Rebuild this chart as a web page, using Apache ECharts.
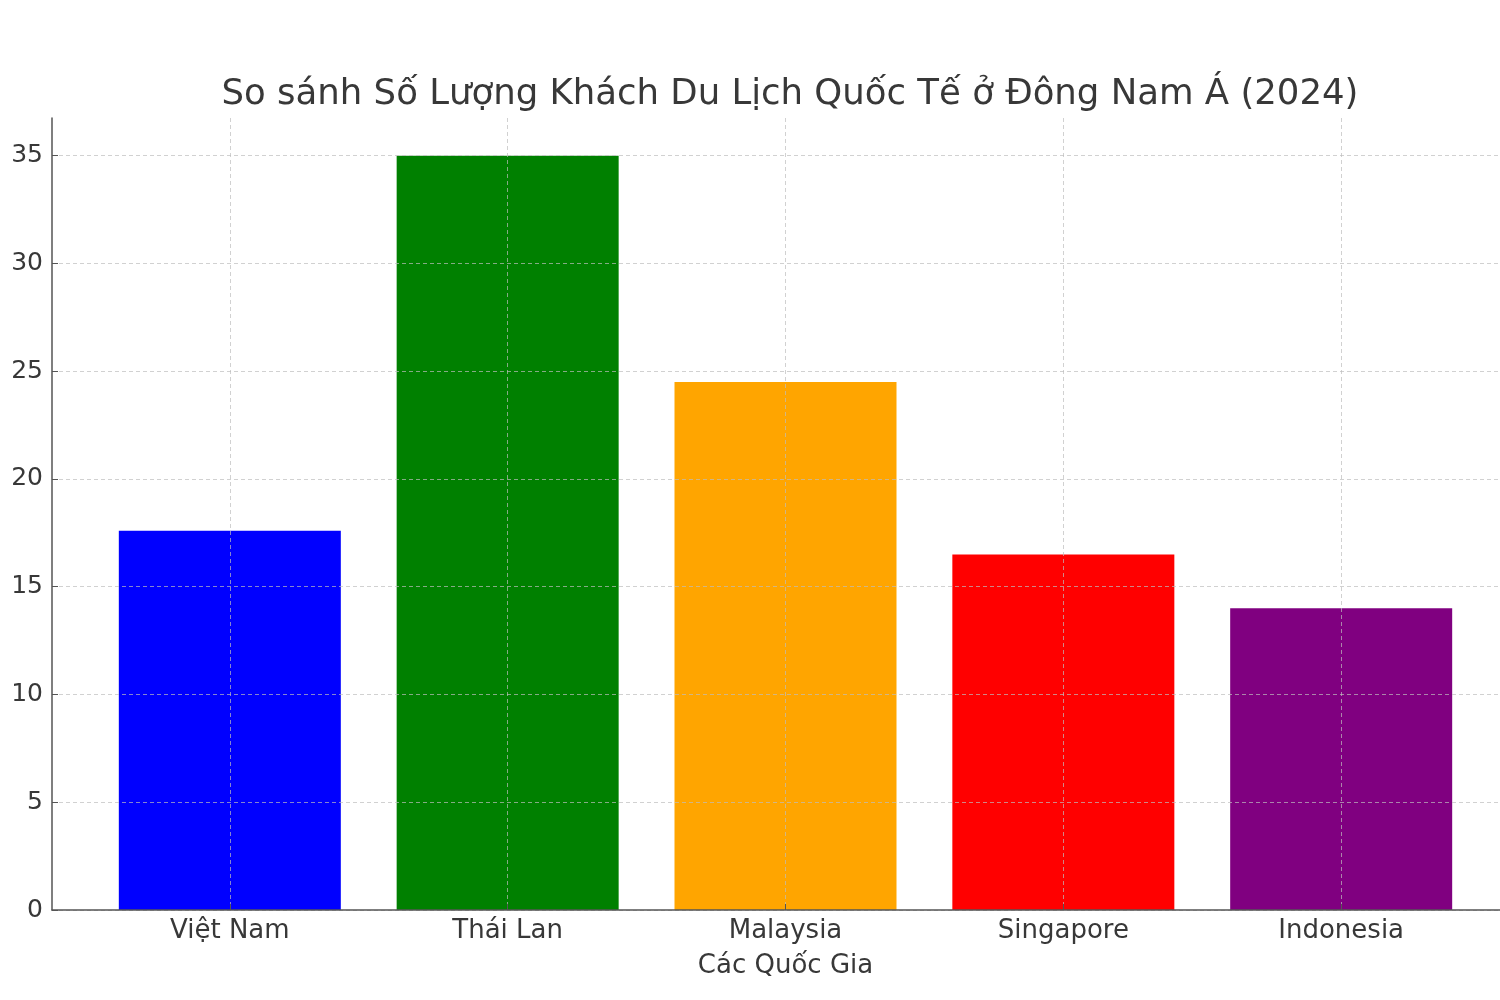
<!DOCTYPE html>
<html>
<head>
<meta charset="utf-8">
<script src="https://cdn.jsdelivr.net/npm/echarts@6/dist/echarts.min.js"></script>
<style>html,body{margin:0;padding:0;background:#fff;}#c{width:1500px;height:1000px;}</style>
</head>
<body>
<div id="c"></div>
<script>
const categories = ['Việt Nam', 'Thái Lan', 'Malaysia', 'Singapore', 'Indonesia'];
const visitors = [17.6, 35.0, 24.5, 16.5, 14.0];
const barColors = ['#0000ff', '#008000', '#ffa500', '#ff0000', '#800080'];
const yTicks = [0, 5, 10, 15, 20, 25, 30, 35];
const xPositions = [0, 1, 2, 3, 4];

const FONT = 'DejaVu Sans';
const chart = echarts.init(document.getElementById('c'), null, {renderer: 'canvas'});
chart.setOption({
  animation: false,
  backgroundColor: '#ffffff',
  title: {
    text: 'So sánh Số Lượng Khách Du Lịch Quốc Tế ở Đông Nam Á (2024)',
    left: 785, top: 72, textAlign: 'center',
    textStyle: {fontFamily: FONT, fontSize: 35.5, fontWeight: 'normal', color: '#383838'}
  },
  grid: {left: 52, top: 118, bottom: 90, width: 1467, containLabel: false, outerBoundsMode: 'none'},
  xAxis: {
    type: 'value', min: -0.64, max: 4.64, z: 5,
    name: 'Các Quốc Gia', nameLocation: 'middle', nameGap: 43,
    nameTextStyle: {fontFamily: FONT, fontSize: 26, color: '#383838'},
    axisLine: {show: true, onZero: false, lineStyle: {color: '#555', width: 1.5}},
    axisTick: {show: true, inside: true, length: 6, customValues: xPositions, lineStyle: {color: '#555'}},
    axisLabel: {customValues: xPositions, margin: 8, fontFamily: FONT, fontSize: 26, color: '#383838',
      formatter: v => categories[Math.round(v)] || ''},
    splitLine: {show: true, lineStyle: {color: 'rgba(190,190,190,0.7)', type: [4, 3], width: 1}}
  },
  yAxis: {
    type: 'value', min: 0, max: 36.75, z: 5,
    name: 'Số Lượng Khách (triệu)', nameLocation: 'middle', nameGap: 50, nameRotate: 90,
    nameTextStyle: {fontFamily: FONT, fontSize: 26, color: '#383838'},
    axisLine: {show: true, onZero: false, lineStyle: {color: '#555', width: 1.5}},
    axisTick: {show: true, inside: true, length: 6, customValues: yTicks, lineStyle: {color: '#555'}},
    axisLabel: {customValues: yTicks, margin: 9, fontFamily: FONT, fontSize: 25, color: '#383838'},
    splitLine: {show: true, lineStyle: {color: 'rgba(190,190,190,0.7)', type: [4, 3], width: 1}}
  },
  series: [{
    type: 'bar',
    barWidth: 222,
    data: visitors.map((v, i) => ({value: [xPositions[i], v], itemStyle: {color: barColors[i]}})),
    z: 2
  }]
});
</script>
</body>
</html>
